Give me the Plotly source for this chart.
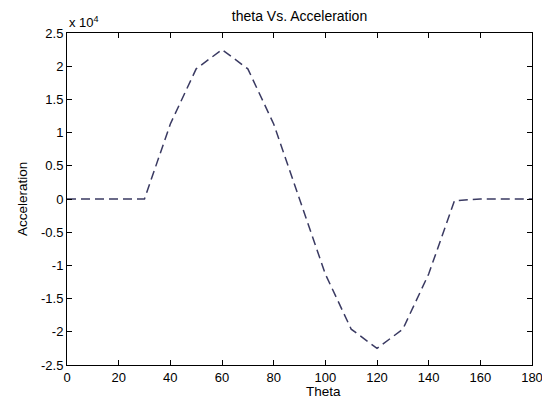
import plotly.graph_objects as go

theta = [0, 10, 20, 30, 40, 50, 60, 70, 80, 90, 100, 110, 120, 130, 140, 150, 160, 170, 180]
accel = [0, 0, 0, 0, 11300, 19600, 22500, 19600, 11300, 0, -11300, -19600, -22500, -19600, -11300, -250, 0, 0, 0]

x_ticks = [0, 20, 40, 60, 80, 100, 120, 140, 160, 180]
y_tick_vals = [-25000, -20000, -15000, -10000, -5000, 0, 5000, 10000, 15000, 20000, 25000]
y_tick_text = ["-2.5", "-2", "-1.5", "-1", "-0.5", "0", "0.5", "1", "1.5", "2", "2.5"]

font = "Liberation Sans, Arial, sans-serif"
W, H = 542, 401
L, R, T, B = 67, 10, 33, 36

fig = go.Figure()
fig.add_trace(go.Scatter(
    x=theta, y=accel, mode="lines",
    line=dict(color="#3a3a62", width=1.5, dash="9px,5px"),
    showlegend=False,
))

fig.update_layout(
    width=W, height=H,
    margin=dict(l=L, r=R, t=T, b=B, autoexpand=False),
    paper_bgcolor="white", plot_bgcolor="white",
    font=dict(family=font, size=13, color="black"),
    title=dict(text="theta Vs. Acceleration", x=(67 + 532) / 2 / W, xanchor="center",
               y=1 - 16 / H, yanchor="middle", font=dict(size=14, family=font)),
)
fig.update_xaxes(
    range=[0, 180], tickvals=x_ticks, ticks="inside", ticklen=5, tickcolor="black",
    showline=True, linecolor="black", linewidth=1, mirror="ticks",
    showgrid=False, zeroline=False, automargin=False, ticklabeloverflow="allow",
    tickfont=dict(size=13),
)
fig.update_yaxes(
    range=[-25000, 25000], tickvals=y_tick_vals, ticktext=y_tick_text,
    ticks="inside", ticklen=5, tickcolor="black",
    showline=True, linecolor="black", linewidth=1, mirror="ticks",
    showgrid=False, zeroline=False, automargin=False, ticklabeloverflow="allow",
    tickfont=dict(size=13),
)
# axis titles
fig.add_annotation(
    x=(67 + 532) / 2 / W, y=-(392 - (H - B)) / (H - T - B), xref="paper", yref="paper",
    xanchor="center", yanchor="middle", text="Theta", showarrow=False,
    font=dict(size=13.5, family=font),
)
fig.add_annotation(
    x=-(L - 22) / (W - L - R), y=0.5, xref="paper", yref="paper",
    xanchor="center", yanchor="middle", text="Acceleration", showarrow=False,
    textangle=-90, font=dict(size=13.5, family=font),
)
fig.add_annotation(
    x=0, y=1, xref="paper", yref="paper", xanchor="left", yanchor="bottom",
    text="x 10<sup>4</sup>", showarrow=False, yshift=1,
    font=dict(size=13, family=font),
)
fig.write_html("out.html")
